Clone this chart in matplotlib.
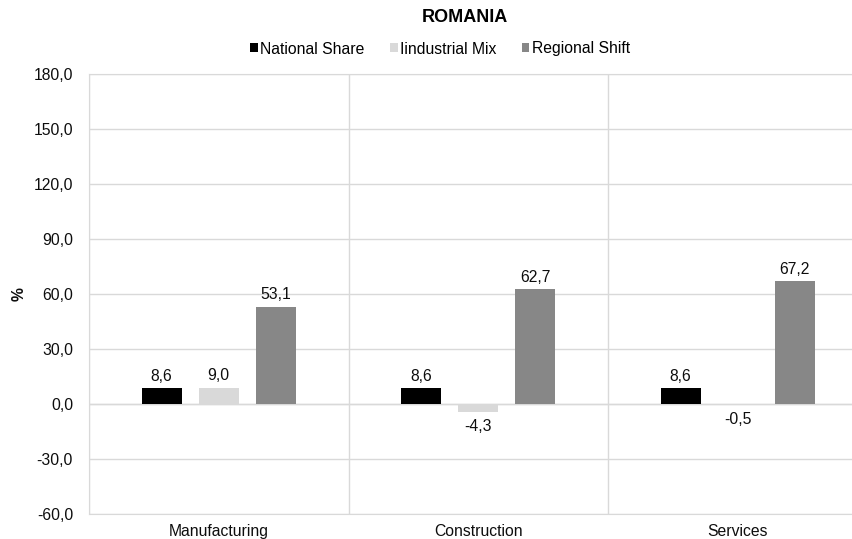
import numpy as np
import matplotlib.pyplot as plt

plt.rcParams['font.family'] = ['Liberation Sans', 'DejaVu Sans']

categories = ['Manufacturing', 'Construction', 'Services']
series_names = ['National Share', 'Iindustrial Mix', 'Regional Shift']
national_share = [8.6, 8.6, 8.6]
industrial_mix = [9.0, -4.3, -0.5]
regional_shift = [53.1, 62.7, 67.2]
colors = ['#000000', '#d9d9d9', '#878787']
txt = '#0d0d0d'

fig = plt.figure(figsize=(8.52, 5.39), dpi=100)
ax = fig.add_axes([89 / 852, 25 / 539, 778.5 / 852, 440 / 539])

x = np.arange(len(categories))
width = 0.154
offsets = [-0.22, 0.0, 0.22]

for vals, name, col, off in zip([national_share, industrial_mix, regional_shift], series_names, colors, offsets):
	bars = ax.bar(x + off, vals, width, color=col, label=name, zorder=3)
	for b, v in zip(bars, vals):
		lbl = format(v, '.1f').replace('.', ',')
		if v >= 0:
			ax.annotate(lbl, (b.get_x() + b.get_width() / 2, v), xytext=(0, 3),
				textcoords='offset points', ha='center', va='bottom', fontsize=11.3, color=txt)
		else:
			ax.annotate(lbl, (b.get_x() + b.get_width() / 2, v), xytext=(0, -5),
				textcoords='offset points', ha='center', va='top', fontsize=11.3, color=txt)

# axes & grid
ax.set_xlim(-0.5, len(categories) - 0.5)
ax.set_ylim(-60, 180)
yt = np.arange(-60, 181, 30)
ax.set_yticks(yt)
ax.set_yticklabels([format(v, '.1f').replace('.', ',') for v in yt], fontsize=11.3, color=txt)
ax.set_xticks(x)
ax.set_xticklabels(categories, fontsize=11.3, color=txt)
ax.tick_params(length=0, pad=7)
ax.tick_params(axis='y', pad=11.5)
ax.set_xticks(np.arange(-0.5, len(categories)), minor=True)
ax.tick_params(which='minor', length=0)
ax.grid(True, axis='y', color='#d9d9d9', linewidth=1, zorder=0)
ax.grid(True, axis='x', which='minor', color='#d9d9d9', linewidth=1, zorder=0)
for s in ax.spines.values():
	s.set_color('#d9d9d9')
ax.axhline(0, color='#d9d9d9', linewidth=1, zorder=1)

ax.set_ylabel('%', fontsize=11.3, fontweight='bold', color=txt, labelpad=5)

fig.text(465 / 852, 1 - 18 / 539, 'ROMANIA', ha='center', va='center',
	fontsize=13, fontweight='bold', color='#000000')
fig.legend(loc='center', bbox_to_anchor=(440 / 852, 1 - 49 / 539), ncol=3, frameon=False,
	fontsize=11.3, handlelength=0.5, handleheight=0.5, handletextpad=0.15, columnspacing=1.6)

fig.savefig('out.png', dpi=100)
